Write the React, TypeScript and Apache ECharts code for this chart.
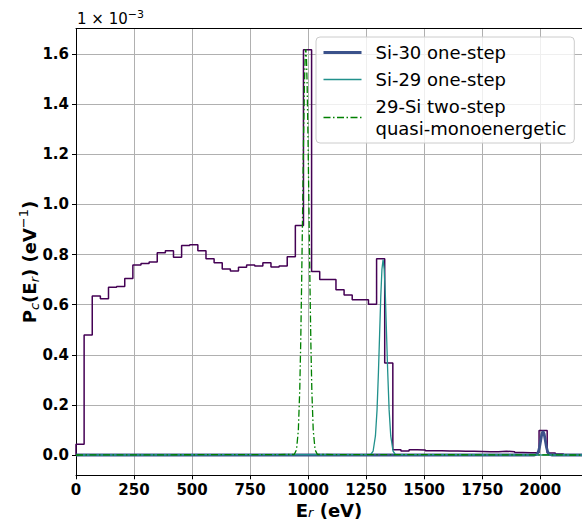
import React, { useEffect, useRef } from "react";
import * as echarts from "echarts";

// ---- data (y values in units of 1e-3 eV^-1) ----
const binWidth = 35;
const histValues = [
  0.043, 0.479, 0.634, 0.623, 0.669, 0.672, 0.704, 0.758, 0.764, 0.770,
  0.807, 0.815, 0.789, 0.836, 0.839, 0.815, 0.783, 0.767, 0.742, 0.734,
  0.749, 0.758, 0.754, 0.767, 0.750, 0.754, 0.791, 0.916, 1.617, 0.732,
  0.700, 0.700, 0.659, 0.638, 0.619, 0.619, 0.602, 0.783, 0.367, 0.021,
  0.016, 0.021, 0.020, 0.017, 0.017, 0.016, 0.016, 0.015, 0.015, 0.014,
  0.013, 0.013, 0.015, 0.013, 0.010, 0.009, 0.009, 0.098, 0.008, 0.004,
];

const si30X = [0, 1975, 1985, 1992, 1997, 2002, 2007, 2012, 2017, 2022, 2027, 2032, 2039, 2049, 2180];
const si30Y = [0, 0.0, 0.0025, 0.013, 0.031, 0.058, 0.084, 0.095, 0.084, 0.058, 0.031, 0.013, 0.0025, 0.0, 0];

const si29X = [0, 1270, 1280, 1290, 1297, 1303, 1308, 1313, 1318, 1323, 1328, 1333, 1338, 1343, 1349, 1356, 1366, 1376, 2180];
const si29Y = [0, 0.002, 0.015, 0.076, 0.18, 0.33, 0.48, 0.63, 0.74, 0.78, 0.74, 0.63, 0.48, 0.33, 0.18, 0.076, 0.015, 0.002, 0];

const twoStepX = [0, 940, 950, 958, 964, 968, 972, 976, 980, 984, 987, 990, 993, 996, 1000, 1004, 1008, 1012, 1016, 1022, 1030, 1040, 2180];
const twoStepY = [0, 0.002, 0.021, 0.10, 0.26, 0.44, 0.68, 0.95, 1.24, 1.47, 1.58, 1.62, 1.58, 1.47, 1.24, 0.95, 0.68, 0.44, 0.26, 0.10, 0.021, 0.002, 0];

const xTicks = [0, 250, 500, 750, 1000, 1250, 1500, 1750, 2000];
const yTicks = [0, 0.2, 0.4, 0.6, 0.8, 1.0, 1.2, 1.4, 1.6];

const seriesNames = ["Si-30 one-step", "Si-29 one-step", "29-Si two-step\nquasi-monoenergetic"];

const FONT = "DejaVu Sans";

const COLORS = { hist: "#440154", si30: "#3b528b", si29: "#21918c", two: "#008000" };
const DASH = [7, 2.5, 1.5, 2.5];

function zip(xs: number[], ys: number[]) {
  return xs.map((x, i) => [x, ys[i]]);
}

function histPoints() {
  const pts: number[][] = [[0, 0]];
  histValues.forEach((v, i) => {
    pts.push([i * binWidth, v]);
    pts.push([(i + 1) * binWidth, v]);
  });
  pts.push([histValues.length * binWidth, 0]);
  return pts;
}

export default function App() {
  const ref = useRef<HTMLDivElement>(null);

  useEffect(() => {
    if (!ref.current) return;
    const chart = echarts.init(ref.current, undefined, { renderer: "svg" });

    const subStyle = { fontSize: 13, fontStyle: "italic", fontWeight: "normal", fontFamily: FONT, color: "#000", lineHeight: 12, verticalAlign: "bottom" };
    const supStyle = { fontSize: 13, fontWeight: "normal", fontFamily: FONT, color: "#000", lineHeight: 12, verticalAlign: "top" };
    const boldStyle = { fontSize: 18, fontWeight: "bold", fontFamily: FONT, color: "#000", lineHeight: 24 };
    const boldStyleX = { fontSize: 18, fontWeight: "bold", fontFamily: FONT, color: "#000", lineHeight: 18 };
    const subStyleX = { ...subStyle, lineHeight: 10 };

    const option: any = {
      animation: false,
      backgroundColor: "#ffffff",
      grid: { left: 76, top: 28.7, right: 0, bottom: 45.7, containLabel: false, outerBoundsMode: "none" },
      legend: {
        data: [
          { name: seriesNames[0], lineStyle: { color: COLORS.si30, width: 3 } },
          { name: seriesNames[1], lineStyle: { color: COLORS.si29, width: 1.6 } },
          { name: seriesNames[2], lineStyle: { color: COLORS.two, width: 1.5, type: DASH } },
        ],
        orient: "vertical",
        left: 316,
        top: 37,
        padding: [4.5, 8, 3.5, 6],
        itemGap: 5,
        itemWidth: 38,
        itemHeight: 14,
        selectedMode: false,
        itemStyle: { opacity: 0 },
        backgroundColor: "rgba(255,255,255,0.8)",
        borderColor: "#cccccc",
        borderWidth: 1,
        borderRadius: 4,
        textStyle: { fontSize: 18, fontFamily: FONT, color: "#000", lineHeight: 22, padding: [0, 0, 0, 9] },
      },
      graphic: [
        {
          type: "text",
          left: 77,
          top: 9,
          style: {
            text: "{a|1 × 10}{s|−3}",
            rich: {
              a: { fontSize: 15, fontFamily: FONT, fill: "#000", lineHeight: 20 },
              s: { fontSize: 11, fontFamily: FONT, fill: "#000", lineHeight: 12, verticalAlign: "top" },
            },
          },
        },
      ],
      xAxis: [
        {
          type: "value",
          min: 0,
          max: 2180,
          interval: 250,
          axisLine: { show: true, onZero: false, lineStyle: { color: "#000", width: 1 } },
          axisTick: { show: true, length: 4, customValues: xTicks, lineStyle: { color: "#000", width: 1 } },
          axisLabel: {
            customValues: xTicks,
            margin: 7,
            fontSize: 15,
            fontWeight: "bold",
            fontFamily: FONT,
            color: "#000",
            formatter: (v: number) => (v % 250 === 0 ? String(v) : ""),
          },
          splitLine: { show: true, lineStyle: { color: "#b0b0b0", width: 1 } },
          name: "{b|E}{s|r}{b| (eV)}",
          nameLocation: "middle",
          nameGap: 26,
          nameMoveOverlap: false,
          nameTextStyle: { rich: { b: boldStyleX, s: subStyleX } },
        },
        {
          type: "value",
          position: "top",
          min: 0,
          max: 2180,
          axisLine: { show: true, onZero: false, lineStyle: { color: "#000", width: 1 } },
          axisTick: { show: false },
          axisLabel: { show: false },
          splitLine: { show: false },
        },
      ],
      yAxis: {
        type: "value",
        min: -0.081,
        max: 1.701,
        splitNumber: 8,
        minInterval: 0.2,
        maxInterval: 0.2,
        axisLine: { show: true, onZero: false, lineStyle: { color: "#000", width: 1 } },
        axisTick: { show: true, length: 4, customValues: yTicks, lineStyle: { color: "#000", width: 1 } },
        axisLabel: {
          customValues: yTicks,
          margin: 7,
          fontSize: 15,
          fontWeight: "bold",
          fontFamily: FONT,
          color: "#000",
          formatter: (v: number) => (Math.abs(v - Math.round(v / 0.2) * 0.2) < 1e-6 ? v.toFixed(1) : ""),
        },
        splitLine: { show: true, lineStyle: { color: "#b0b0b0", width: 1 } },
        name: "{b|P}{s|c}{b|(E}{s|r}{b|) (eV}{u|−1}{b|)}",
        nameLocation: "middle",
        nameRotate: 90,
        nameGap: 35,
        nameMoveOverlap: false,
        nameTextStyle: { padding: [0, 20, 0, 0], rich: { b: boldStyle, s: subStyle, u: supStyle } },
      },
      series: [
        {
          name: "hist",
          type: "line",
          data: histPoints(),
          showSymbol: false,
          symbol: "none",
          lineStyle: { color: COLORS.hist, width: 1.5 },
          itemStyle: { color: COLORS.hist },
          z: 2,
        },
        {
          name: seriesNames[0],
          type: "line",
          data: zip(si30X, si30Y),
          showSymbol: false,
          symbol: "none",
          lineStyle: { color: COLORS.si30, width: 2.8 },
          itemStyle: { color: COLORS.si30 },
          z: 3,
        },
        {
          name: seriesNames[1],
          type: "line",
          data: zip(si29X, si29Y),
          showSymbol: false,
          symbol: "none",
          lineStyle: { color: COLORS.si29, width: 1.3 },
          itemStyle: { color: COLORS.si29 },
          z: 4,
        },
        {
          name: seriesNames[2],
          type: "line",
          data: zip(twoStepX, twoStepY),
          showSymbol: false,
          symbol: "none",
          lineStyle: { color: COLORS.two, width: 1.3, type: DASH },
          itemStyle: { color: COLORS.two },
          z: 5,
        },
      ],
    };

    chart.setOption(option);
    return () => chart.dispose();
  }, []);

  return <div ref={ref} style={{ position: "absolute", left: 0, top: 0, width: 582, height: 521 }} />;
}
